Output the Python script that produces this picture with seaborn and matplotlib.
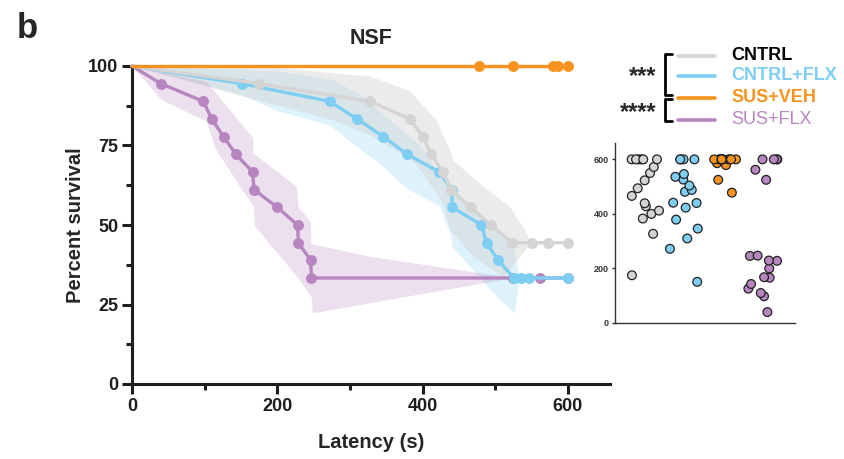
import numpy as np
import pandas as pd
import matplotlib
matplotlib.use("Agg")
import matplotlib.pyplot as plt
from matplotlib.lines import Line2D
import seaborn as sns

sns.set_style("ticks")
plt.rcParams["font.family"] = ["Liberation Sans", "DejaVu Sans"]
plt.rcParams["font.weight"] = "bold"

# ---------------------------------------------------------------- data
groups = ["CNTRL", "CNTRL+FLX", "SUS+VEH", "SUS+FLX"]
palette = {"CNTRL": "#d4d4d4", "CNTRL+FLX": "#7ecef4",
           "SUS+VEH": "#f7931e", "SUS+FLX": "#b786c0"}

# latency to feed (s); 600 s = test cut-off; event 1 = fed, 0 = censored
cntrl_lat = [175, 327, 383, 400, 412, 428, 439, 466, 494, 523, 550, 572,
             600, 600, 600, 600, 600, 600]
cntrl_evt = [1] * 10 + [0] * 8
cflx_lat = [151, 272, 310, 346, 379, 423, 440, 441, 481, 488, 504, 526,
            536, 546, 600, 600, 600, 600]
cflx_evt = [1] * 12 + [0] * 6
veh_lat = [478, 525, 579, 586, 600, 600, 600, 600, 600, 600, 600, 600,
           600, 600, 600, 600]
veh_evt = [0] * 16
sflx_lat = [40, 98, 110, 126, 143, 166, 168, 200, 228, 229, 246, 247,
            525, 562, 600, 600, 600, 600]
sflx_evt = [1] * 12 + [0] * 6

latencies = {"CNTRL": (cntrl_lat, cntrl_evt), "CNTRL+FLX": (cflx_lat, cflx_evt),
             "SUS+VEH": (veh_lat, veh_evt), "SUS+FLX": (sflx_lat, sflx_evt)}

# confidence bands (s, % upper / lower outline)
cntrl_band_up_x = [0, 203, 330, 383, 419, 440, 442, 484, 520, 541, 550]
cntrl_band_up_y = [100, 99.3, 96.6, 92, 83, 72.5, 70.4, 62, 55.8, 48.4, 44.4]
cntrl_band_lo_x = [0, 175, 277, 330, 387, 401, 428, 438, 470, 512, 550]
cntrl_band_lo_y = [100, 89, 83, 78, 70, 66, 56.8, 48.4, 40, 33.5, 44.4]

cflx_band_up_x = [0, 150, 203, 277, 318, 396, 433, 484, 525, 534]
cflx_band_up_y = [100, 98.8, 98.2, 95.6, 90.4, 75, 63, 52.6, 43.2, 33.3]
cflx_band_lo_x = [0, 150, 203, 272, 327, 341, 378, 424, 440, 441, 502, 527, 534]
cflx_band_lo_y = [100, 91, 85.6, 81.4, 71.5, 69.4, 61.5, 55.8, 46.3, 43.2, 27.5, 22.2, 33.3]

sflx_band_up_x = [0, 103, 167, 167, 227, 229, 246, 247, 328, 525]
sflx_band_up_y = [100, 95, 77.3, 72.5, 62, 55.8, 51, 44, 40, 33.3]
sflx_band_lo_x = [0, 41, 103, 115, 149, 168, 169, 231, 247, 249, 341, 525]
sflx_band_lo_y = [100, 89.3, 82.5, 74, 62, 55.8, 49.7, 32.7, 27.5, 22.2, 25.9, 33.3]

bands = {"CNTRL+FLX": (cflx_band_up_x, cflx_band_up_y, cflx_band_lo_x, cflx_band_lo_y, 0.25),
         "CNTRL": (cntrl_band_up_x, cntrl_band_up_y, cntrl_band_lo_x, cntrl_band_lo_y, 0.45),
         "SUS+FLX": (sflx_band_up_x, sflx_band_up_y, sflx_band_lo_x, sflx_band_lo_y, 0.25)}

stars = ["***", "****"]


def kaplan_meier(lat, evt):
    df = pd.DataFrame({"t": lat, "e": evt}).sort_values("t")
    at_risk = len(df)
    s = 1.0
    ts, ss = [0.0], [100.0]
    for t, g in df.groupby("t"):
        s *= 1 - g["e"].sum() / at_risk
        at_risk -= len(g)
        ts.append(float(t))
        ss.append(100 * s)
    return pd.DataFrame({"t": ts, "s": ss})


# ---------------------------------------------------------------- figure
W, H = 844, 459
fig = plt.figure(figsize=(W / 100, H / 100), dpi=100)


def fx(px):
    return px / W


def fy(py):
    return 1 - py / H


ax = fig.add_axes([fx(132), fy(384), fx(610) - fx(132), fy(66) - fy(384)])

for g, (ux, uy, lx, ly, a) in bands.items():
    poly_x = list(ux) + list(lx)[::-1]
    poly_y = list(uy) + list(ly)[::-1]
    ax.fill(poly_x, poly_y, color=palette[g], alpha=a, lw=0, zorder=1)

draw_order = ["SUS+FLX", "CNTRL+FLX", "CNTRL", "SUS+VEH"]
for i, g in enumerate(draw_order):
    km = kaplan_meier(*latencies[g])
    sns.lineplot(data=km, x="t", y="s", color=palette[g], lw=2.4,
                 estimator=None, sort=False, ax=ax, zorder=3 + 2 * i, clip_on=False)
    sns.scatterplot(data=km.iloc[1:], x="t", y="s", color=palette[g], s=62,
                    linewidth=0, ax=ax, zorder=4 + 2 * i, clip_on=False)

ax.set_xlim(0, 658)
ax.set_ylim(0, 100)
ax.set_xticks([0, 200, 400, 600])
ax.set_xticks([100, 300, 500], minor=True)
ax.set_yticks([0, 25, 50, 75, 100])
ax.set_yticks([12.5, 37.5, 62.5, 87.5], minor=True)
sns.despine(ax=ax)
for sp in ("left", "bottom"):
    ax.spines[sp].set_linewidth(2.2)
    ax.spines[sp].set_color("#1e1e1e")
ax.tick_params(which="major", length=7, width=2.2, color="#1e1e1e",
               labelsize=13, pad=3)
ax.tick_params(which="minor", length=4, width=2.2, color="#1e1e1e")
for lab in ax.get_xticklabels() + ax.get_yticklabels():
    lab.set_fontweight("bold")
    lab.set_color("#1e1e1e")
ax.set_xlabel("Latency (s)", fontsize=14.5, fontweight="bold", labelpad=13)
ax.set_ylabel("Percent survival", fontsize=14.5, fontweight="bold", labelpad=2)
ax.set_title("NSF", fontsize=15.5, fontweight="bold", pad=16)

# ---------------------------------------------------------------- inset
axin = fig.add_axes([fx(615), fy(323), fx(795) - fx(615), fy(143) - fy(323)])
pts = pd.DataFrame([(g, v) for g in groups for v in latencies[g][0]],
                   columns=["group", "latency"])
np.random.seed(7)
sns.stripplot(data=pts, x="group", y="latency", hue="group", order=groups,
              hue_order=groups, palette=palette, jitter=0.38, size=6.3,
              edgecolor="#222222", linewidth=0.9, legend=False, ax=axin,
              clip_on=False)
axin.set_xlim(-0.75, 3.8)
axin.set_ylim(0, 660)
axin.set_yticks([0, 200, 400, 600])
axin.set_xticks([])
axin.set_xlabel("")
axin.set_ylabel("")
axin.patch.set_alpha(0)
sns.despine(ax=axin)
for sp in ("left", "bottom"):
    axin.spines[sp].set_linewidth(1.0)
    axin.spines[sp].set_color("#333333")
axin.tick_params(axis="y", length=2.5, width=1.0, color="#333333",
                 labelsize=6.5, pad=2)
for lab in axin.get_yticklabels():
    lab.set_fontweight("bold")
    lab.set_color("#333333")

# ---------------------------------------------------------------- legend
leg_y = [56, 76, 98, 120]
for g, yy in zip(groups, leg_y):
    fig.add_artist(Line2D([fx(678), fx(715)], [fy(yy), fy(yy)],
                          color=palette[g], lw=2.6, solid_capstyle="round"))
    fig.text(fx(731), fy(yy), g, fontsize=13,
             fontweight="normal" if g == "SUS+FLX" else "bold",
             color="#000000" if g == "CNTRL" else palette[g], va="center",
             ha="left")

for (top, bot) in [(54, 95), (99, 121)]:
    fig.add_artist(Line2D([fx(672), fx(665), fx(665), fx(672)],
                          [fy(top), fy(top), fy(bot), fy(bot)],
                          color="#000000", lw=2.0))
for s, yy in zip(stars, [77, 113]):
    fig.text(fx(656), fy(yy), s, fontsize=17, fontweight="bold",
             ha="right", va="center")

fig.text(fx(17), fy(38), "b", fontsize=25, fontweight="bold",
         ha="left", va="baseline")

fig.savefig("out.png", dpi=100)
